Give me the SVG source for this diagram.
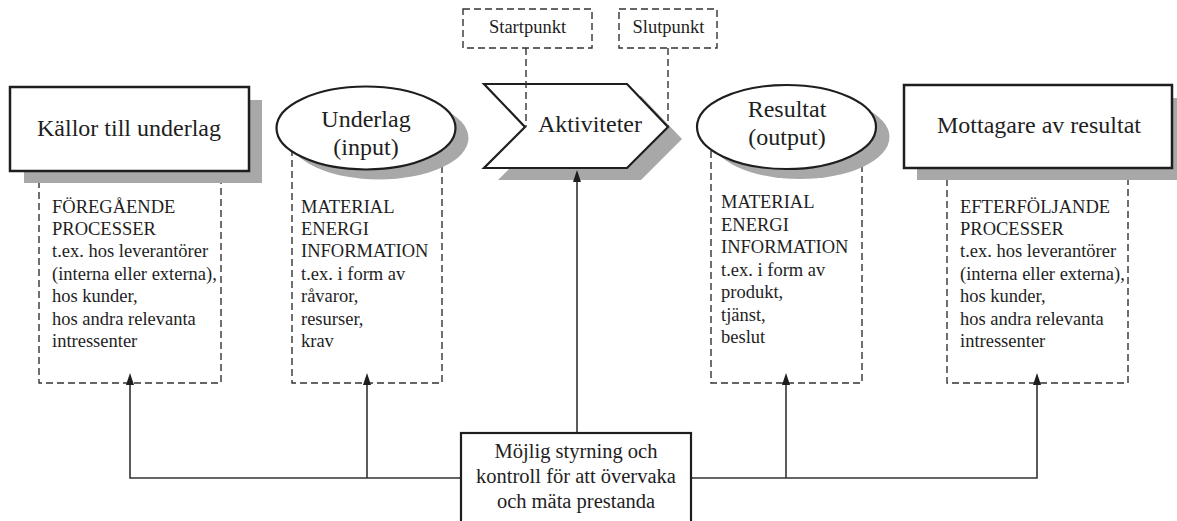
<svg xmlns="http://www.w3.org/2000/svg" width="1177" height="521" viewBox="0 0 1177 521">
<style>
text{font-family:"Liberation Serif","Times New Roman",serif;fill:#1e1e1e}
.h{font-size:24px;text-anchor:middle}
.l{font-size:18.5px}
.s{font-size:18.5px;text-anchor:middle}
.c{font-size:20.5px;text-anchor:middle}
.sh{fill:#a8a8a8;stroke:none}
.box{fill:#fff;stroke:#1e1e1e;stroke-width:2.5}
.dash{fill:#fff;stroke:#333;stroke-width:1.4;stroke-dasharray:7 4}
.dl{fill:none;stroke:#333;stroke-width:1.4;stroke-dasharray:7 4}
.ln{fill:none;stroke:#333;stroke-width:1.6}
</style>
<defs>
<marker id="ah" markerUnits="userSpaceOnUse" markerWidth="8" markerHeight="12" refX="4" refY="11" orient="0" viewBox="0 0 8 12">
<path d="M0,12 L4,0 L8,12 Z" fill="#1e1e1e"/>
</marker>
</defs>

<g id="kallor">
<rect class="dash" x="39" y="150" width="182" height="233"/>
<rect class="sh" x="24" y="100" width="238" height="83"/>
<rect class="box" x="10" y="87" width="239" height="84"/>
<text class="h" x="129" y="136">Källor till underlag</text>
<text class="l" x="52" y="213">FÖREGÅENDE</text>
<text class="l" x="52" y="235">PROCESSER</text>
<text class="l" x="52" y="257">t.ex. hos leverantörer</text>
<text class="l" x="52" y="280">(interna eller externa),</text>
<text class="l" x="52" y="302">hos kunder,</text>
<text class="l" x="52" y="325">hos andra relevanta</text>
<text class="l" x="52" y="347">intressenter</text>
</g>

<g id="underlag">
<rect class="dash" x="292" y="140" width="150" height="243"/>
<ellipse class="sh" cx="379" cy="138" rx="89.5" ry="41.5"/>
<ellipse class="box" cx="366" cy="128" rx="89.5" ry="41.5" style="stroke-width:2.2"/>
<text class="h" x="366" y="127">Underlag</text>
<text class="h" x="366" y="155">(input)</text>
<text class="l" x="301" y="213">MATERIAL</text>
<text class="l" x="301" y="235">ENERGI</text>
<text class="l" x="301" y="257">INFORMATION</text>
<text class="l" x="301" y="280">t.ex. i form av</text>
<text class="l" x="301" y="302">råvaror,</text>
<text class="l" x="301" y="325">resurser,</text>
<text class="l" x="301" y="347">krav</text>
</g>

<g id="startpunkt">
<rect class="dash" x="463" y="9" width="129" height="39"/>
<text class="s" x="527.5" y="33">Startpunkt</text>
</g>

<g id="slutpunkt">
<rect class="dash" x="619" y="9" width="98" height="39"/>
<text class="s" x="668.5" y="33">Slutpunkt</text>
</g>

<g id="aktiviteter">
<polygon class="sh" points="498,96 641,96 682,139 641,180 498,180 539,139"/>
<polygon class="box" points="484,84 627,84 668,127 627,168 484,168 525,127" style="stroke-width:2.2"/>
<text class="h" x="590" y="132">Aktiviteter</text>
</g>

<g id="resultat">
<rect class="dash" x="711" y="140" width="151" height="243"/>
<ellipse class="sh" cx="800" cy="137" rx="89.5" ry="42"/>
<ellipse class="box" cx="786.5" cy="127" rx="89.5" ry="42" style="stroke-width:2.2"/>
<text class="h" x="787" y="117">Resultat</text>
<text class="h" x="787" y="145">(output)</text>
<text class="l" x="721" y="208">MATERIAL</text>
<text class="l" x="721" y="231">ENERGI</text>
<text class="l" x="721" y="253">INFORMATION</text>
<text class="l" x="721" y="276">t.ex. i form av</text>
<text class="l" x="721" y="298">produkt,</text>
<text class="l" x="721" y="321">tjänst,</text>
<text class="l" x="721" y="343">beslut</text>
</g>

<g id="mottagare">
<rect class="dash" x="947" y="150" width="181" height="233"/>
<rect class="sh" x="917" y="98" width="268" height="82"/>
<rect class="box" x="904" y="85" width="268" height="83"/>
<text class="h" x="1039" y="133">Mottagare av resultat</text>
<text class="l" x="960" y="213">EFTERFÖLJANDE</text>
<text class="l" x="960" y="235">PROCESSER</text>
<text class="l" x="960" y="257">t.ex. hos leverantörer</text>
<text class="l" x="960" y="280">(interna eller externa),</text>
<text class="l" x="960" y="302">hos kunder,</text>
<text class="l" x="960" y="325">hos andra relevanta</text>
<text class="l" x="960" y="347">intressenter</text>
</g>

<g id="connectors">
<path class="dl" d="M526,48 V127"/>
<path class="dl" d="M668,48 V127"/>
<path class="ln" d="M461,478 H130 V384" marker-end="url(#ah)"/>
<path class="ln" d="M367,478 V384" marker-end="url(#ah)"/>
<path class="ln" d="M691,478 H1037 V384" marker-end="url(#ah)"/>
<path class="ln" d="M786,478 V384" marker-end="url(#ah)"/>
<path class="ln" d="M577,433 V181" marker-end="url(#ah)"/>
</g>

<g id="kontroll">
<rect class="box" x="461" y="433" width="230" height="100" style="stroke-width:2.2"/>
<text class="c" x="576" y="458">Möjlig styrning och</text>
<text class="c" x="576" y="483">kontroll för att övervaka</text>
<text class="c" x="576" y="508">och mäta prestanda</text>
</g>
</svg>
